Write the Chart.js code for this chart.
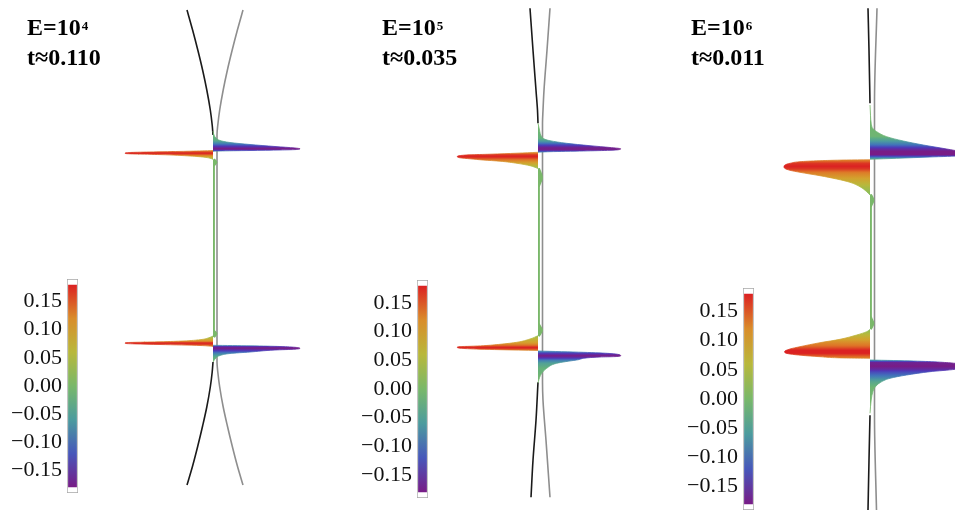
<!DOCTYPE html>
<html>
<head>
<meta charset="utf-8">
<script src="https://cdn.jsdelivr.net/npm/chart.js@4/dist/chart.umd.min.js"></script>
<style>
  body { margin: 0; background: #fff; width: 955px; height: 510px; position: relative; overflow: hidden; }
  canvas { position: absolute; }
  .ttl { position: absolute; top: 14px; font: bold 24px "Liberation Serif", "Times New Roman", serif; line-height: 27px; color: #000; white-space: nowrap; }
  .ttl .ex { font-size: 13px; position: relative; top: -5px; margin-left: 1px; }
</style>
</head>
<body>
<script>
// ---- colour scale (rainbow, value range of the bar legend) ----
const cbMin = -0.18, cbMax = 0.18;
const cbFrame = [-0.19, 0.19];
const cbTicks = [0.15, 0.10, 0.05, 0.00, -0.05, -0.10, -0.15];
const rainbowColors = [
  [120, 28, 134], [77, 57, 185], [65, 116, 186], [76, 155, 158], [100, 178, 124],
  [142, 189, 87], [184, 184, 60], [211, 162, 46], [222, 119, 39], [219, 33, 34]
];

// ---- panel labels ----
const exponents = ['4', '5', '6'];
const times = ['0.110', '0.035', '0.011'];

// ---- panel 1 (E=10^4): interfaces, wall line and profiles, [u, z] ----
const p1BlackTop = [[-2.6, 23.82], [-2.04, 21.82], [-1.52, 19.82], [-1.04, 17.82], [-0.62, 15.82], [-0.27, 13.82], [-0.08, 12.32], [0, 11.32]];
const p1BlackBottom = [[0, -11.38], [-0.08, -12.38], [-0.27, -13.88], [-0.62, -15.88], [-1.04, -17.78], [-1.52, -19.78], [-2.04, -21.78], [-2.6, -23.68]];
const p1Grey = [[3.0, 23.82], [2.44, 21.82], [1.92, 19.82], [1.44, 17.82], [1.02, 15.82], [0.67, 13.82], [0.48, 12.32], [0.4, 11.32],
                [0.4, -11.38], [0.48, -12.38], [0.67, -13.88], [1.02, -15.88], [1.44, -17.78], [1.92, -19.78], [2.44, -21.78], [3.0, -23.68]];
const p1Green = [[0.1, 8.9], [0.35, 8.6], [0.1, 8.2], [0.1, -8.2], [0.35, -8.55], [0.1, -8.9]];
const p1FinLU = [[0, 9.77], [-2.3, 9.70], [-5.3, 9.64], [-7.8, 9.59], [-8.6, 9.55], [-8.8, 9.50], [-8.6, 9.45], [-7.8, 9.42], [-5.3, 9.36], [-2.3, 9.22], [-0.8, 9.09], [-0.2, 8.97], [0, 8.87]];
const p1ShadeLU = [[9.77, 0.13], [9.52, 0.18], [9.42, 0.17], [9.28, 0.13], [9.12, 0.09], [8.98, 0.05], [8.87, 0.02]];
const p1FinRU = [[0, 11.72], [0.1, 11.32], [0.3, 11.02], [0.7, 10.77], [1.7, 10.57], [3.7, 10.37], [6.2, 10.17], [8.2, 10.02], [8.7, 9.94], [8.2, 9.86], [6.7, 9.82], [3.7, 9.77], [0.7, 9.72], [0, 9.67]];
const p1ShadeRU = [[11.72, 0.0], [10.8, -0.03], [10.45, -0.09], [10.15, -0.15], [9.95, -0.18], [9.82, -0.16], [9.67, -0.08]];
const p1FinLL = [[0, -8.78], [-0.4, -8.95], [-1.3, -9.15], [-3.0, -9.28], [-5.3, -9.36], [-7.8, -9.41], [-8.6, -9.44], [-8.8, -9.49], [-8.6, -9.54], [-7.8, -9.57], [-5.3, -9.63], [-1.3, -9.73], [0, -9.83]];
const p1ShadeLL = [[-8.78, 0.02], [-9.0, 0.06], [-9.2, 0.10], [-9.35, 0.14], [-9.47, 0.18], [-9.6, 0.17], [-9.83, 0.13]];
const p1FinRR = [[0, -9.71], [3.7, -9.76], [6.7, -9.83], [8.2, -9.91], [8.7, -10.01], [8.2, -10.1], [6.2, -10.18], [3.7, -10.38], [1.7, -10.53], [0.7, -10.73], [0.3, -10.98], [0.1, -11.23], [0, -11.38]];
const p1ShadeRR = [[-9.71, -0.08], [-9.85, -0.16], [-10.0, -0.18], [-10.2, -0.15], [-10.5, -0.09], [-10.9, -0.03], [-11.38, 0.0]];

// ---- panel 2 (E=10^5) ----
const p2BlackTop = [[-0.8, 24.4], [-0.5, 20.2], [-0.2, 16.2], [-0.05, 14.2], [0, 12.9]];
const p2BlackBottom = [[0, -13.0], [-0.2, -16.8], [-0.5, -20.8], [-0.7, -24.5]];
const p2Grey = [[1.2, 24.4], [0.9, 20.2], [0.6, 16.2], [0.5, 14.2], [0.45, 12.9], [0.45, -13.0], [0.5, -14.8], [0.8, -18.8], [1.2, -24.5]];
const p2Green = [[0.1, 8.4], [0.4, 7.45], [0.1, 6.5], [0.1, -7.1], [0.4, -7.8], [0.1, -8.4]];
const p2FinLU = [[0, 10.0], [-2.1, 9.91], [-4.8, 9.81], [-6.8, 9.75], [-7.8, 9.67], [-8.07, 9.56], [-7.8, 9.45], [-6.8, 9.35], [-5.5, 9.23], [-3.8, 9.11], [-2.1, 8.90], [-0.8, 8.66], [-0.3, 8.50], [0, 8.38]];
const p2ShadeLU = [[10.0, 0.12], [9.75, 0.17], [9.55, 0.18], [9.4, 0.16], [9.1, 0.12], [8.8, 0.08], [8.5, 0.04], [8.38, 0.02]];
const p2FinRU = [[0, 12.9], [0.15, 12.23], [0.37, 11.56], [0.7, 11.3], [1.2, 11.16], [2.87, 10.9], [5.2, 10.66], [7.2, 10.48], [8.27, 10.35], [8.0, 10.25], [7.2, 10.2], [4.53, 10.13], [1.2, 10.06], [0, 10.0]];
const p2ShadeRU = [[12.9, 0.0], [11.4, -0.02], [11.05, -0.07], [10.8, -0.12], [10.5, -0.17], [10.3, -0.18], [10.15, -0.15], [10.0, -0.08]];
const p2FinLL = [[0, -8.34], [-0.8, -8.67], [-2.13, -9.0], [-3.8, -9.2], [-5.47, -9.34], [-6.8, -9.4], [-7.8, -9.43], [-8.07, -9.5], [-7.8, -9.59], [-5.8, -9.69], [-3.8, -9.74], [0, -9.82]];
const p2ShadeLL = [[-8.34, 0.03], [-8.77, 0.08], [-9.1, 0.11], [-9.34, 0.15], [-9.5, 0.18], [-9.62, 0.17], [-9.82, 0.13]];
const p2FinRR = [[0, -9.87], [4.53, -10.0], [7.2, -10.12], [8.27, -10.34], [7.7, -10.43], [6.2, -10.47], [3.87, -10.77], [1.87, -11.1], [0.87, -11.6], [0.37, -12.1], [0.03, -12.94], [0, -13.07]];
const p2ShadeRR = [[-9.87, -0.08], [-10.15, -0.15], [-10.35, -0.18], [-10.55, -0.15], [-10.8, -0.09], [-11.1, -0.05], [-11.6, -0.02], [-13.07, 0.0]];

// ---- panel 3 (E=10^6) ----
const p3BlackTop = [[-0.2, 25.1], [-0.1, 20.9], [0, 15.6]];
const p3BlackBottom = [[0, -15.6], [-0.1, -20.1], [-0.2, -25.1]];
const p3Grey = [[0.7, 25.1], [0.45, 15.6], [0.45, -15.6], [0.65, -25.1]];
const p3Green = [[0.1, 6.5], [0.35, 5.9], [0.1, 5.2], [0.1, -5.7], [0.35, -6.4], [0.1, -7.0]];
const p3FinLU = [[0, 9.96], [-2.33, 9.93], [-5.0, 9.86], [-7.0, 9.76], [-8.0, 9.6], [-8.5, 9.43], [-8.6, 9.26], [-8.5, 9.08], [-8.0, 8.9], [-7.0, 8.7], [-5.0, 8.36], [-3.33, 8.03], [-2.0, 7.7], [-1.0, 7.26], [-0.33, 6.76], [0, 6.43]];
const p3ShadeLU = [[9.96, 0.13], [9.6, 0.17], [9.3, 0.18], [9.05, 0.17], [8.6, 0.13], [8.1, 0.10], [7.6, 0.07], [7.1, 0.04], [6.43, 0.01]];
const p3FinRU = [[0, 15.43], [0.05, 14.4], [0.12, 13.6], [0.3, 13.05], [0.67, 12.76], [1.67, 12.26], [3.33, 11.83], [5.33, 11.43], [7.67, 11.03], [9.0, 10.78], [9.6, 10.58], [9.0, 10.35], [6.0, 10.23], [2.67, 10.1], [0, 10.0]];
const p3ShadeRU = [[15.43, 0.0], [12.3, -0.01], [11.9, -0.05], [11.45, -0.10], [11.1, -0.15], [10.8, -0.18], [10.45, -0.18], [10.2, -0.10], [10.0, -0.03]];
const p3FinLL = [[0, -7.0], [-0.33, -7.24], [-1.33, -7.57], [-3.0, -8.0], [-5.0, -8.34], [-7.0, -8.74], [-8.0, -8.97], [-8.55, -9.24], [-8.0, -9.47], [-5.0, -9.74], [-2.33, -9.87], [0, -9.9]];
const p3ShadeLL = [[-7.0, 0.01], [-7.4, 0.05], [-7.9, 0.09], [-8.3, 0.12], [-8.75, 0.15], [-9.1, 0.18], [-9.4, 0.18], [-9.9, 0.13]];
const p3FinRR = [[0, -10.07], [4.33, -10.17], [8.5, -10.4], [9.6, -10.72], [8.5, -11.0], [6.0, -11.24], [3.67, -11.57], [2.0, -11.9], [1.0, -12.34], [0.5, -12.8], [0.3, -13.2], [0.12, -14.07], [0, -15.4]];
const p3ShadeRR = [[-10.07, -0.06], [-10.3, -0.17], [-10.7, -0.18], [-11.0, -0.16], [-11.25, -0.13], [-11.75, -0.09], [-12.25, -0.04], [-12.8, -0.01], [-15.4, 0.0]];

// ---- layout (page pixels) ----
const PX_PER_UNIT = 10;
const H = 510;
const panels = [
  { left: 0,   width: 320, x0: 213, y0: 248.2, titleLeft: 27,
    cb: { left: 0, top: 279, height: 214 },
    black: [p1BlackTop, p1BlackBottom], grey: p1Grey, green: p1Green,
    fins: [[p1FinLU, p1ShadeLU], [p1FinRU, p1ShadeRU], [p1FinLL, p1ShadeLL], [p1FinRR, p1ShadeRR]] },
  { left: 320, width: 320, x0: 538, y0: 252.3, titleLeft: 382,
    cb: { left: 350, top: 280, height: 218 },
    black: [p2BlackTop, p2BlackBottom], grey: p2Grey, green: p2Green,
    fins: [[p2FinLU, p2ShadeLU], [p2FinRU, p2ShadeRU], [p2FinLL, p2ShadeLL], [p2FinRR, p2ShadeRR]] },
  { left: 640, width: 315, x0: 870, y0: 259.3, titleLeft: 691,
    cb: { left: 676, top: 288, height: 222 },
    black: [p3BlackTop, p3BlackBottom], grey: p3Grey, green: p3Green,
    fins: [[p3FinLU, p3ShadeLU], [p3FinRU, p3ShadeRU], [p3FinLL, p3ShadeLL], [p3FinRR, p3ShadeRR]] }
];

function rainbow(v) {
  const n = rainbowColors.length - 1;
  const t = Math.min(1, Math.max(0, (v - cbMin) / (cbMax - cbMin))) * n;
  const i = Math.min(n - 1, Math.floor(t));
  const f = t - i;
  const a = rainbowColors[i], b = rainbowColors[i + 1];
  const c = a.map((x, k) => Math.round(x + (b[k] - x) * f));
  return `rgb(${c[0]},${c[1]},${c[2]})`;
}

// vertical colour ramp: stops are [z, value] pairs, mapped through the y scale
function verticalShade(stops) {
  return (context) => {
    const chart = context.chart;
    const ys = chart.scales && chart.scales.y;
    if (!chart.chartArea || !ys) return rainbow(stops[0][1]);
    const p0 = ys.getPixelForValue(stops[0][0]);
    const p1 = ys.getPixelForValue(stops[stops.length - 1][0]);
    const g = chart.ctx.createLinearGradient(0, p0, 0, p1);
    const span = (p1 - p0) || 1;
    for (let k = 0; k < stops.length - 1; k++) {
      const [za, va] = stops[k], [zb, vb] = stops[k + 1];
      for (let s = 0; s < 6; s++) {
        const f = s / 6;
        const pz = ys.getPixelForValue(za + (zb - za) * f);
        const off = Math.min(1, Math.max(0, (pz - p0) / span));
        g.addColorStop(off, rainbow(va + (vb - va) * f));
      }
    }
    g.addColorStop(1, rainbow(stops[stops.length - 1][1]));
    return g;
  };
}

const pts = (arr) => arr.map(([u, z]) => ({ x: u, y: z }));

function addCanvas(left, top, w, h) {
  const c = document.createElement('canvas');
  c.width = w; c.height = h;
  c.style.left = left + 'px'; c.style.top = top + 'px';
  c.style.width = w + 'px'; c.style.height = h + 'px';
  document.body.appendChild(c);
  return c;
}

const wallGreen = 'rgb(122,184,106)';

panels.forEach((p, idx) => {
  // profile panel
  const datasets = [];
  datasets.push({ data: pts(p.grey), borderColor: '#8e8e8e', borderWidth: 1.6, fill: false, order: 3 });
  p.black.forEach(b => datasets.push({ data: pts(b), borderColor: '#1a1a1a', borderWidth: 1.6, fill: false, order: 2 }));
  datasets.push({ data: pts(p.green), borderColor: wallGreen, backgroundColor: wallGreen, borderWidth: 1.8, fill: 'origin', order: 1 });
  p.fins.forEach(([outline, shade]) => datasets.push({
    data: pts(outline), fill: 'origin',
    backgroundColor: verticalShade(shade), borderColor: verticalShade(shade),
    borderWidth: 0.8, order: 0
  }));

  const canvas = addCanvas(p.left, 0, p.width, H);
  new Chart(canvas, {
    type: 'line',
    data: { datasets },
    options: {
      indexAxis: 'y',
      responsive: false, animation: false, events: [],
      layout: { padding: 0 },
      plugins: { legend: { display: false }, tooltip: { enabled: false } },
      elements: { point: { radius: 0 }, line: { cubicInterpolationMode: 'monotone' } },
      scales: {
        x: { type: 'linear', display: false, min: (p.left - p.x0) / PX_PER_UNIT, max: (p.left + p.width - p.x0) / PX_PER_UNIT },
        y: { type: 'linear', display: false, min: (p.y0 - H) / PX_PER_UNIT, max: p.y0 / PX_PER_UNIT }
      }
    }
  });

  // bar legend
  const cbCanvas = addCanvas(p.cb.left, p.cb.top, 78, p.cb.height);
  new Chart(cbCanvas, {
    type: 'bar',
    data: {
      labels: ['v'],
      datasets: [
        { data: [[cbMin, cbMax]], backgroundColor: verticalShade([[cbMax, cbMax], [cbMin, cbMin]]),
          borderWidth: 0, barPercentage: 0.8, categoryPercentage: 1, grouped: false, order: 0 },
        { data: [cbFrame], backgroundColor: '#ffffff', borderColor: '#a6a6a6', borderWidth: 1,
          borderSkipped: false, barPercentage: 1, categoryPercentage: 1, grouped: false, order: 1 }
      ]
    },
    options: {
      responsive: false, animation: false, events: [],
      layout: { padding: 0 },
      plugins: { legend: { display: false }, tooltip: { enabled: false } },
      scales: {
        x: { display: false },
        y: {
          min: cbFrame[0], max: cbFrame[1],
          grid: { display: false, drawTicks: false },
          border: { display: false },
          afterFit: (s) => { s.width = 67; s.paddingTop = 0; s.paddingBottom = 0; },
          afterBuildTicks: (s) => { s.ticks = cbTicks.map(v => ({ value: v })); },
          ticks: {
            autoSkip: false, padding: 5, color: '#111',
            font: { family: '"Liberation Serif", "Times New Roman", serif', size: 22 },
            callback: (v) => Number(v).toFixed(2).replace('-', '\u2212')
          }
        }
      }
    }
  });

  // panel heading
  const t = document.createElement('div');
  t.className = 'ttl';
  t.style.left = p.titleLeft + 'px';
  t.innerHTML = 'E=10<span class="ex">' + exponents[idx] + '</span><br>t\u2248' + times[idx];
  document.body.appendChild(t);
});
</script>
</body>
</html>
